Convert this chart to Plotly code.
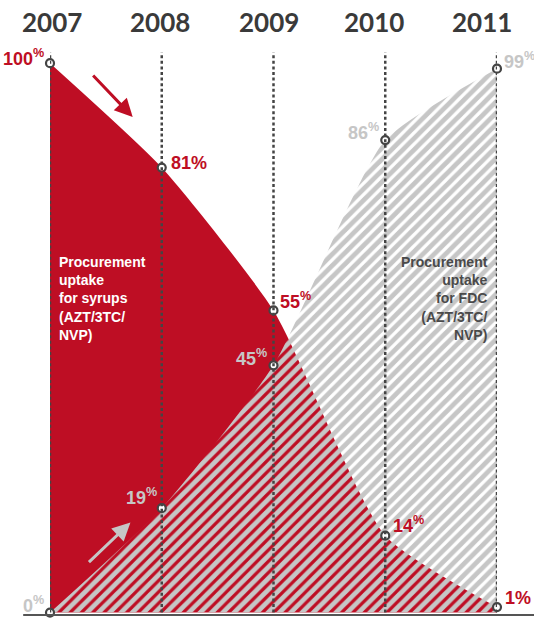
import plotly.graph_objects as go

years = [2007, 2008, 2009, 2010, 2011]
syrup_share = [100, 81, 55, 14, 1]
fdc_share = [0, 19, 45, 86, 99]
syrup_labels = ["100<sup>%</sup>", "81%", "55<sup>%</sup>", "14<sup>%</sup>", "1%"]
fdc_labels = ["0<sup>%</sup>", "19<sup>%</sup>", "45<sup>%</sup>", "86<sup>%</sup>", "99<sup>%</sup>"]
year_labels = ["2007", "2008", "2009", "2010", "2011"]
syrup_text = "Procurement<br>uptake<br>for syrups<br>(AZT/3TC/<br>NVP)"
fdc_text = "Procurement<br>uptake<br>for FDC<br>(AZT/3TC/<br>NVP)"

RED = "#BE0E24"
GREY = "#C6C6C6"
DARK = "#444444"
FONT = "Liberation Sans"

fig = go.Figure()

# Syrup area (solid red)
fig.add_trace(go.Scatter(
    x=years, y=syrup_share, mode="lines", line=dict(width=0, shape="spline", smoothing=0.55),
    fill="tozeroy", fillcolor=RED, hoverinfo="skip", showlegend=False))

# FDC area (grey stripes, transparent gaps)
fig.add_trace(go.Scatter(
    x=years, y=fdc_share, mode="lines", line=dict(width=0, shape="spline", smoothing=0.55),
    fill="tozeroy", fillcolor=GREY,
    fillpattern=dict(shape="/", fgcolor=GREY, bgcolor="rgba(0,0,0,0)", size=8, solidity=0.6,
                     fgopacity=1, fillmode="replace"),
    hoverinfo="skip", showlegend=False))

# vertical dotted lines
for yr in years:
    fig.add_shape(type="line", x0=yr, x1=yr, y0=0, y1=102, xref="x", yref="y",
                  line=dict(color=DARK, width=2.5, dash="3px,2.6px"), layer="above")

# baseline
fig.add_shape(type="line", x0=-0.06, x1=1.1, y0=-0.45, y1=-0.45, xref="paper", yref="y",
              line=dict(color="#555555", width=2), layer="above")

# markers
for ys in (syrup_share, fdc_share):
    fig.add_trace(go.Scatter(
        x=years, y=ys, mode="markers",
        marker=dict(size=8, color="white", line=dict(color=DARK, width=2.2)),
        hoverinfo="skip", showlegend=False, cliponaxis=False))

# value labels
syr_pos = [("right", -4, 6), ("left", 7, 5), ("left", 4, 10), ("left", 6, 11), ("left", 6, 9)]
fdc_pos = [("right", -4, 8), ("right", -3, 12), ("right", -5, 8), ("right", -4, 9), ("left", 5, 8)]
for yr, v, t, (anc, dx, dy) in zip(years, syrup_share, syrup_labels, syr_pos):
    fig.add_annotation(x=yr, y=v, text=t, showarrow=False, xanchor=anc, yanchor="middle",
                       xshift=dx, yshift=dy, font=dict(family=FONT, size=18, color=RED, weight="bold"))
for yr, v, t, (anc, dx, dy) in zip(years, fdc_share, fdc_labels, fdc_pos):
    fig.add_annotation(x=yr, y=v, text=t, showarrow=False, xanchor=anc, yanchor="middle",
                       xshift=dx, yshift=dy, font=dict(family=FONT, size=18, color=GREY, weight="bold"))

# year headers
year_shift = [2, -2, -5, -11, -15]
for yr, lab, dx in zip(years, year_labels, year_shift):
    fig.add_annotation(x=yr, y=1, yref="paper", text=lab, showarrow=False, xanchor="center",
                       yanchor="bottom", yshift=10, xshift=dx,
                       font=dict(family="Lato", size=26, color="#3A3A3A", weight="bold"))

# descriptive texts
fig.add_annotation(x=2007, y=65.6, text=syrup_text, showarrow=False, xanchor="left", yanchor="top",
                   xshift=7, align="left",
                   font=dict(family=FONT, size=14, color="white", weight="bold"))
fig.add_annotation(x=2011, y=65.6, text=fdc_text, showarrow=False, xanchor="right", yanchor="top",
                   xshift=-7, align="right",
                   font=dict(family=FONT, size=14, color="#4A4A4A", weight="bold"))

# arrows
fig.add_annotation(x=2007.74, y=90.2, ax=-41, ay=-43, showarrow=True, text="",
                   arrowcolor=RED, arrowwidth=3, arrowhead=2, arrowsize=1.2)
fig.add_annotation(x=2007.72, y=16.4, ax=-43, ay=41, showarrow=True, text="",
                   arrowcolor=GREY, arrowwidth=3, arrowhead=2, arrowsize=1.2)

fig.update_layout(
    width=534, height=620,
    margin=dict(l=50, r=37, t=50, b=3),
    paper_bgcolor="white", plot_bgcolor="white",
    xaxis=dict(range=[2007, 2011], visible=False, fixedrange=True),
    yaxis=dict(range=[-0.8, 102.4], visible=False, fixedrange=True),
    showlegend=False,
)

fig.write_html("out.html", config={"displayModeBar": False},
               post_script="document.body.style.margin='0';document.body.style.overflow='hidden';")
